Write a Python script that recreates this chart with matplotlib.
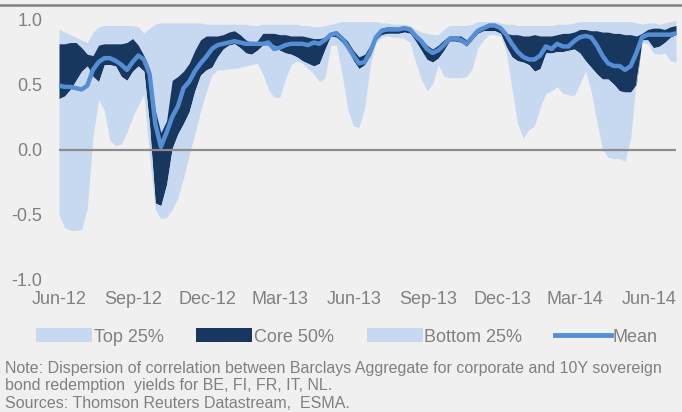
import numpy as np
import pandas as pd
import matplotlib
matplotlib.use("Agg")
import matplotlib.pyplot as plt
from matplotlib.patches import Patch
from matplotlib.lines import Line2D

# Weekly observations, Jun-2012 to early Jul-2014
dates = pd.date_range("2012-06-01", periods=110, freq="7D")

# Upper edge of the top quartile
top_upper = [
    0.92, 0.90, 0.88, 0.86, 0.84, 0.82, 0.90, 0.94, 0.95, 0.95,
    0.95, 0.95, 0.95, 0.95, 0.94, 0.89, 0.93, 0.96, 0.97, 0.97,
    0.97, 0.97, 0.97, 0.97, 0.97, 0.97, 0.96, 0.96, 0.96, 0.96,
    0.96, 0.96, 0.96, 0.96, 0.95, 0.95, 0.96, 0.96, 0.96, 0.96,
    0.96, 0.96, 0.96, 0.95, 0.95, 0.94, 0.94, 0.95, 0.96, 0.97,
    0.98, 0.98, 0.98, 0.98, 0.98, 0.98, 0.98, 0.97, 0.97, 0.96,
    0.96, 0.96, 0.95, 0.92, 0.90, 0.89, 0.88, 0.88, 0.92, 0.95,
    0.95, 0.95, 0.95, 0.96, 0.98, 0.98, 0.98, 0.98, 0.97, 0.96,
    0.96, 0.95, 0.95, 0.95, 0.95, 0.95, 0.95, 0.95, 0.96, 0.96,
    0.96, 0.97, 0.98, 0.98, 0.98, 0.98, 0.98, 0.98, 0.98, 0.98,
    0.98, 0.98, 0.97, 0.96, 0.97, 0.97, 0.96, 0.97, 0.98, 0.99,
]

# Upper edge of the core 50%
core_upper = [
    0.81, 0.81, 0.82, 0.82, 0.78, 0.73, 0.72, 0.80, 0.81, 0.81,
    0.81, 0.81, 0.82, 0.85, 0.80, 0.72, 0.62, 0.30, 0.13, 0.22,
    0.53, 0.56, 0.60, 0.66, 0.76, 0.84, 0.87, 0.87, 0.87, 0.88,
    0.90, 0.91, 0.88, 0.84, 0.82, 0.83, 0.89, 0.89, 0.89, 0.88,
    0.88, 0.87, 0.87, 0.87, 0.86, 0.85, 0.85, 0.86, 0.90, 0.91,
    0.87, 0.83, 0.76, 0.71, 0.73, 0.80, 0.88, 0.93, 0.94, 0.94,
    0.93, 0.94, 0.93, 0.89, 0.85, 0.80, 0.77, 0.80, 0.84, 0.87,
    0.87, 0.87, 0.84, 0.87, 0.92, 0.95, 0.96, 0.96, 0.94, 0.89,
    0.88, 0.88, 0.87, 0.87, 0.88, 0.87, 0.87, 0.87, 0.88, 0.89,
    0.89, 0.90, 0.92, 0.92, 0.91, 0.91, 0.90, 0.90, 0.89, 0.89,
    0.88, 0.88, 0.87, 0.89, 0.92, 0.93, 0.93, 0.92, 0.94, 0.95,
]

# Lower edge of the core 50%
core_lower = [
    0.39, 0.41, 0.46, 0.53, 0.60, 0.64, 0.56, 0.52, 0.65, 0.65,
    0.64, 0.56, 0.53, 0.60, 0.64, 0.60, 0.18, -0.41, -0.43, -0.27,
    0.01, 0.12, 0.20, 0.29, 0.45, 0.57, 0.61, 0.63, 0.71, 0.77,
    0.80, 0.81, 0.78, 0.74, 0.73, 0.76, 0.80, 0.80, 0.80, 0.76,
    0.74, 0.73, 0.71, 0.68, 0.66, 0.64, 0.66, 0.77, 0.87, 0.86,
    0.82, 0.77, 0.68, 0.62, 0.65, 0.72, 0.84, 0.88, 0.89, 0.89,
    0.89, 0.90, 0.89, 0.83, 0.76, 0.69, 0.67, 0.70, 0.76, 0.83,
    0.83, 0.82, 0.79, 0.84, 0.89, 0.91, 0.91, 0.91, 0.89, 0.79,
    0.71, 0.68, 0.67, 0.65, 0.60, 0.62, 0.74, 0.74, 0.75, 0.75,
    0.76, 0.77, 0.74, 0.68, 0.63, 0.58, 0.54, 0.54, 0.50, 0.45,
    0.44, 0.44, 0.50, 0.84, 0.84, 0.78, 0.79, 0.82, 0.86, 0.88,
]

# Lower edge of the bottom quartile
bottom_lower = [
    -0.50, -0.60, -0.62, -0.62, -0.61, -0.45, 0.10, 0.38, 0.30, 0.07,
    0.03, 0.04, 0.13, 0.25, 0.34, 0.42, -0.05, -0.46, -0.53, -0.52,
    -0.46, -0.37, -0.22, -0.04, 0.12, 0.29, 0.44, 0.57, 0.61, 0.61,
    0.62, 0.62, 0.63, 0.64, 0.65, 0.66, 0.58, 0.46, 0.40, 0.40,
    0.54, 0.65, 0.68, 0.66, 0.62, 0.58, 0.52, 0.55, 0.80, 0.80,
    0.58, 0.31, 0.18, 0.17, 0.32, 0.65, 0.82, 0.86, 0.87, 0.86,
    0.86, 0.85, 0.82, 0.67, 0.54, 0.45, 0.50, 0.65, 0.56, 0.55,
    0.55, 0.55, 0.56, 0.62, 0.78, 0.84, 0.88, 0.88, 0.87, 0.75,
    0.47, 0.20, 0.09, 0.15, 0.18, 0.32, 0.43, 0.45, 0.48, 0.43,
    0.42, 0.41, 0.50, 0.60, 0.45, 0.22, 0.00, -0.06, -0.07, -0.07,
    -0.09, 0.09, 0.55, 0.82, 0.81, 0.74, 0.73, 0.74, 0.68, 0.67,
]

# Cross-country mean correlation
mean_corr = [
    0.49, 0.48, 0.48, 0.47, 0.46, 0.49, 0.61, 0.67, 0.70, 0.70,
    0.68, 0.65, 0.61, 0.67, 0.72, 0.69, 0.58, 0.20, 0.02, 0.13,
    0.25, 0.33, 0.47, 0.52, 0.60, 0.66, 0.71, 0.77, 0.80, 0.81,
    0.82, 0.83, 0.82, 0.81, 0.81, 0.81, 0.81, 0.82, 0.77, 0.78,
    0.80, 0.81, 0.81, 0.81, 0.80, 0.82, 0.81, 0.84, 0.88, 0.89,
    0.85, 0.79, 0.72, 0.66, 0.67, 0.75, 0.86, 0.91, 0.92, 0.92,
    0.92, 0.93, 0.92, 0.87, 0.83, 0.77, 0.74, 0.76, 0.80, 0.85,
    0.85, 0.84, 0.81, 0.86, 0.91, 0.93, 0.95, 0.95, 0.93, 0.88,
    0.81, 0.75, 0.71, 0.69, 0.69, 0.72, 0.79, 0.77, 0.81, 0.79,
    0.79, 0.83, 0.86, 0.87, 0.86, 0.80, 0.72, 0.66, 0.64, 0.64,
    0.61, 0.64, 0.74, 0.86, 0.88, 0.88, 0.88, 0.88, 0.88, 0.89,
]

tick_dates = pd.date_range("2012-06-01", "2014-06-01", freq="3MS")
tick_labels = ["Jun-12", "Sep-12", "Dec-12", "Mar-13", "Jun-13",
               "Sep-13", "Dec-13", "Mar-14", "Jun-14"]
y_ticks = [1.0, 0.5, 0.0, -0.5, -1.0]

legend_labels = ["Top 25%", "Core 50%", "Bottom 25%", "Mean"]
note_lines = [
    "Note: Dispersion of correlation between Barclays Aggregate for corporate and 10Y sovereign",
    "bond redemption  yields for BE, FI, FR, IT, NL.",
    "Sources: Thomson Reuters Datastream,  ESMA.",
]

LIGHT = "#c6d9f0"
DARK = "#17375e"
MEAN = "#558ed5"
BG = "#f0f0f0"
TXT = "#808080"

plt.rcParams["font.family"] = ["Liberation Sans", "DejaVu Sans"]

fig = plt.figure(figsize=(6.82, 4.12), dpi=100, facecolor=BG)
ax = fig.add_axes([59 / 682, 1 - 280 / 412, 617 / 682, 261 / 412])
ax.set_facecolor(BG)

x = dates
ax.fill_between(x, core_upper, top_upper, color=LIGHT, lw=0)
ax.fill_between(x, core_lower, core_upper, color=DARK, lw=0)
ax.fill_between(x, bottom_lower, core_lower, color=LIGHT, lw=0)
ax.axhline(0, color="#8c8c8c", lw=1.6, zorder=2)
ax.plot(x, mean_corr, color=MEAN, lw=3.2, solid_capstyle="round", zorder=3)

ax.set_xlim(dates[0], dates[-1])
ax.set_ylim(-1, 1)
ax.set_xticks(tick_dates)
ax.set_xticklabels(tick_labels)
ax.set_yticks(y_ticks)
ax.set_yticklabels([f"{v:.1f}" for v in y_ticks])
ax.tick_params(axis="both", length=0, colors=TXT, labelsize=13)
ax.tick_params(axis="y", pad=12)
ax.tick_params(axis="x", pad=8)
for s in ax.spines.values():
    s.set_visible(False)

# Rule under the (cropped) heading
fig.add_artist(Line2D([0, 1], [1 - 5 / 412, 1 - 5 / 412], color="#808080", lw=1.8,
                      transform=fig.transFigure))

handles = [
    Patch(facecolor=LIGHT, edgecolor="none"),
    Patch(facecolor=DARK, edgecolor="none"),
    Patch(facecolor=LIGHT, edgecolor="none"),
    Line2D([], [], color=MEAN, lw=3.5),
]
leg = fig.legend(handles, legend_labels, loc="center left",
                 bbox_to_anchor=(29 / 682, 1 - 337 / 412), ncol=4, frameon=False,
                 fontsize=13, handlelength=3.1, handleheight=0.8,
                 handletextpad=0.1, columnspacing=1.8, borderaxespad=0)
for t in leg.get_texts():
    t.set_color(TXT)

for i, line in enumerate(note_lines):
    fig.text(5 / 682, 1 - (368 + 17.5 * i) / 412, line, fontsize=11.5,
             color=TXT, va="center", ha="left")

fig.savefig("out.png", dpi=100, facecolor=BG)
